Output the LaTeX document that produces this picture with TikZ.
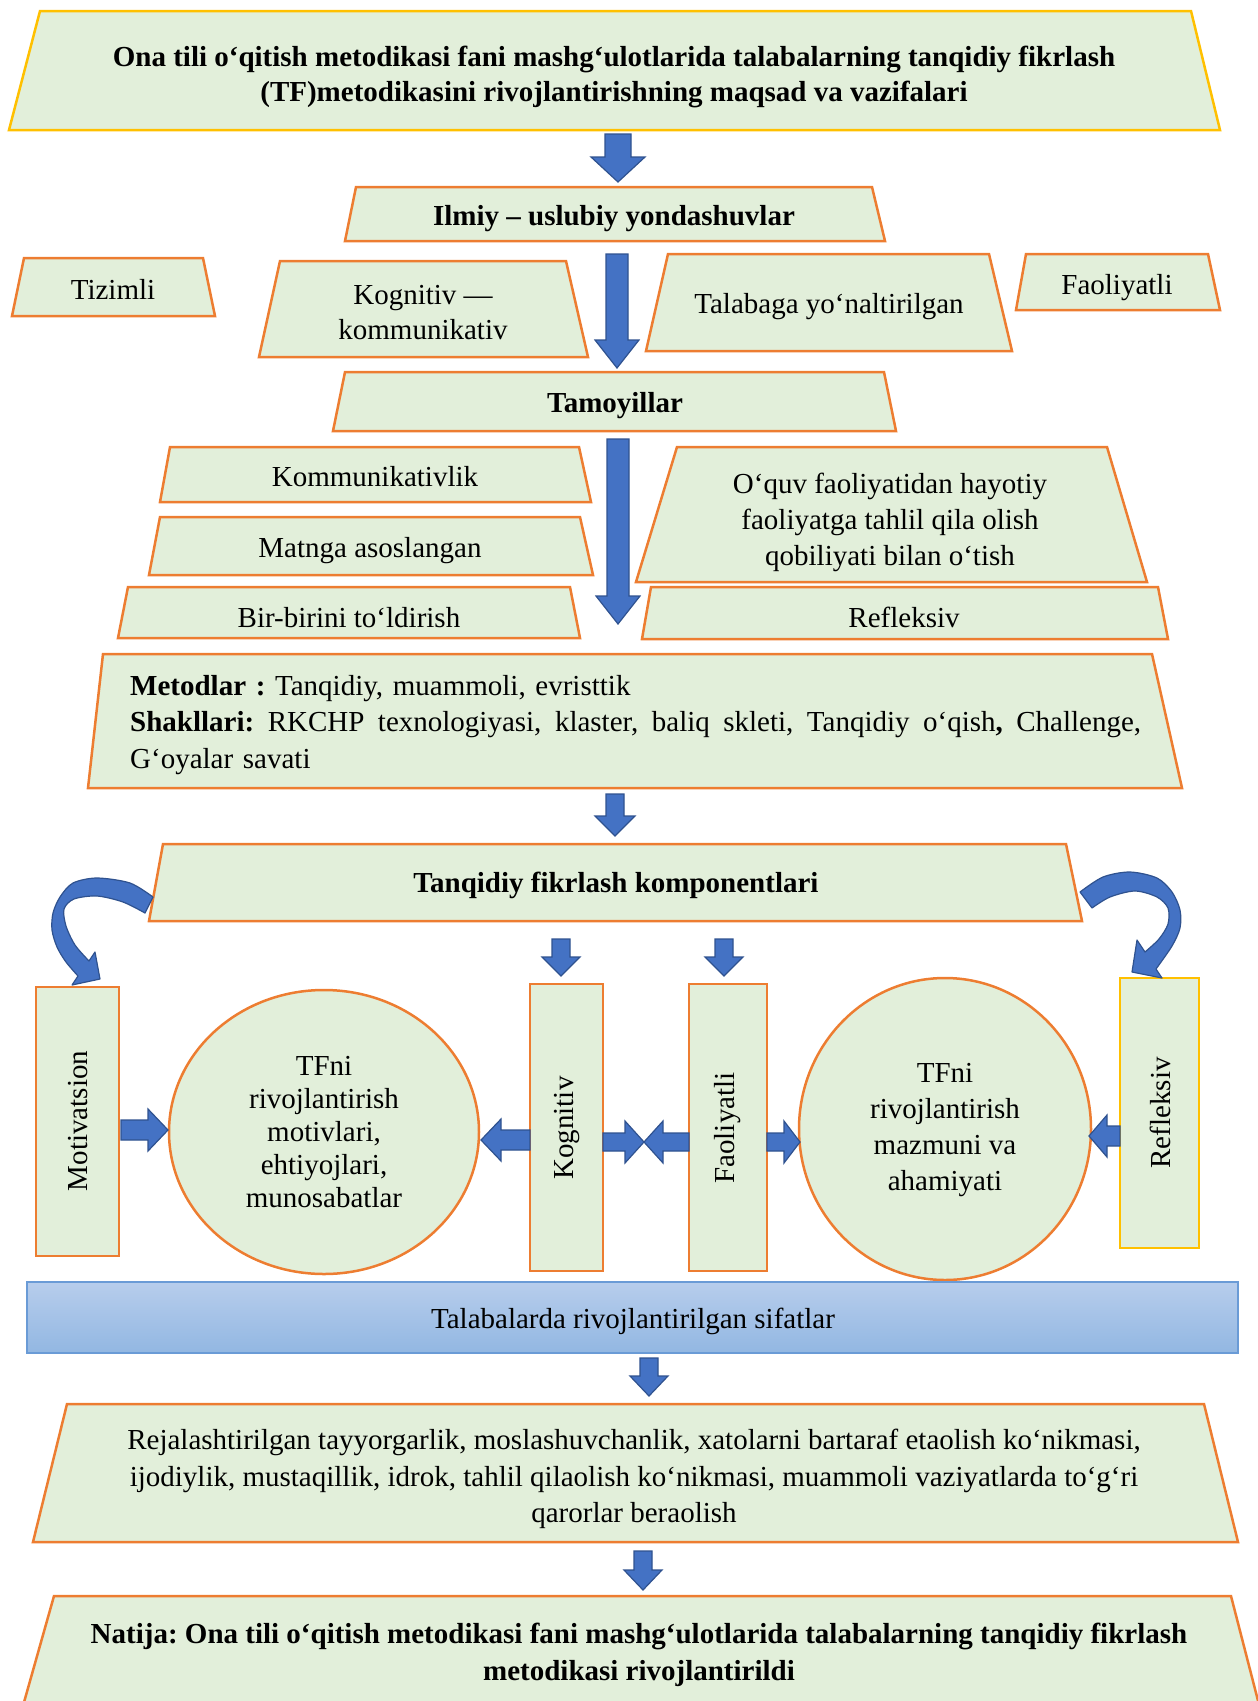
\documentclass[tikz,border=0pt]{standalone}
\usepackage{fontspec}
\setmainfont{Liberation Serif}
\definecolor{boxfill}{HTML}{E2EFDA}
\definecolor{orng}{HTML}{ED7D31}
\definecolor{gold}{HTML}{FFC000}
\definecolor{arrblue}{HTML}{4472C4}
\definecolor{arredge}{HTML}{2F528F}
\definecolor{bartop}{RGB}{183,205,236}
\definecolor{barbot}{RGB}{146,183,226}
\definecolor{baredge}{HTML}{6A9BD6}
\newcommand{\barrow}[7]{%
  \begin{scope}[shift={(#1,#2)},rotate=#3]
    \filldraw[fill=arrblue,draw=arredge,line width=1.2pt,line join=miter]
      (0,-#5)--({#4-#7},-#5)--({#4-#7},-#6)--(#4,0)--({#4-#7},#6)--({#4-#7},#5)--(0,#5)--cycle;
  \end{scope}}
\tikzset{
  trap/.style={fill=boxfill,draw=orng,line width=2.5pt,line join=miter},
  txt/.style={font=\fontsize{29}{35}\selectfont\frenchspacing,align=center,inner sep=0pt},
  btxt/.style={font=\fontsize{29}{35}\selectfont\bfseries\frenchspacing,align=center,inner sep=0pt},
  curvarr/.style={fill=arrblue,draw=arredge,line width=1.2pt,line join=round},
}
\begin{document}
\frenchspacing
\begin{tikzpicture}[x=1pt,y=1pt]
\useasboundingbox (0,0) rectangle (1258,-1701);
% title
\draw[trap,draw=gold] (40,-11)--(1191,-11)--(1220,-130)--(9,-130)--cycle;
\node[btxt] (title) at (614,-77) {Ona tili o‘qitish metodikasi fani mashg‘ulotlarida talabalarning tanqidiy fikrlash\\(TF)metodikasini rivojlantirishning maqsad va vazifalari};
% Ilmiy
\draw[trap] (356,-187)--(872,-187)--(885,-241)--(345,-241)--cycle;
\node[btxt] (ilmiy) at (614,-219) {Ilmiy – uslubiy yondashuvlar};
% approaches
\draw[trap] (24,-258)--(203,-258)--(215,-316)--(12,-316)--cycle;
\node[txt] (tizimli) at (113,-289) {Tizimli};
\draw[trap] (280,-261)--(566,-261)--(588,-357)--(259,-357)--cycle;
\node[txt] (kogkom) at (423,-313) {Kognitiv —\\kommunikativ};
\draw[trap] (668,-254)--(989,-254)--(1012,-351)--(646,-351)--cycle;
\node[txt] (talaba) at (829,-307) {Talabaga yo‘naltirilgan};
\draw[trap] (1026,-254)--(1208,-254)--(1220,-310)--(1016,-310)--cycle;
\node[txt] (faol1) at (1117,-288) {Faoliyatli};
% Tamoyillar
\draw[trap] (345,-372)--(884,-372)--(896,-431)--(333,-431)--cycle;
\node[btxt] (tamoy) at (615,-406) {Tamoyillar};
\draw[trap] (170,-447)--(579,-447)--(591,-502)--(160,-502)--cycle;
\node[txt] (kommun) at (375,-477) {Kommunikativlik};
\draw[trap] (160,-517)--(580,-517)--(593,-575)--(149,-575)--cycle;
\node[txt] (matnga) at (370,-551) {Matnga asoslangan};
\draw[trap] (128,-587)--(570,-587)--(580,-638)--(118,-638)--cycle;
\node[txt] (bir) at (349,-618) {Bir-birini to‘ldirish};
\draw[trap] (677,-447)--(1107,-447)--(1147,-582)--(636,-582)--cycle;
\node[txt,font=\fontsize{29}{36}\selectfont] (oquv) at (890,-522) {O‘quv faoliyatidan hayotiy\\faoliyatga tahlil qila olish\\qobiliyati bilan o‘tish};
\draw[trap] (651,-587)--(1158,-587)--(1168,-639)--(642,-639)--cycle;
\node[txt] (refl1) at (904,-617) {Refleksiv};
% Metodlar
\draw[trap] (103,-654)--(1152,-654)--(1182,-788)--(88,-788)--cycle;
\node[txt,anchor=west,align=left,text width=1011pt,font=\fontsize{29}{36.5}\selectfont\frenchspacing] (metod) at (130,-725)
 {\textbf{Metodlar :} Tanqidiy, muammoli, evristtik\\
  \makebox[1011pt][l]{\textbf{Shakllari:}\hfill RKCHP\hfill texnologiyasi,\hfill klaster,\hfill baliq\hfill skleti,\hfill Tanqidiy\hfill o‘qish\textbf{,}\hfill Challenge,}\\
  G‘oyalar savati};
% Tanqidiy komponentlari
\draw[trap] (163,-844)--(1066,-844)--(1082,-921)--(149,-921)--cycle;
\node[btxt] (komp) at (616,-885) {Tanqidiy fikrlash komponentlari};
% components
\draw[trap] (36,-987) rectangle (119,-1256);
\node[txt,rotate=90] (motiv) at (78,-1121) {Motivatsion};
\draw[trap] (324,-1132) ellipse [x radius=155, y radius=142];
\node[txt,font=\fontsize{29}{33}\selectfont] (ell1) at (324,-1132) {TFni\\rivojlantirish\\motivlari,\\ehtiyojlari,\\munosabatlar};
\draw[trap] (530,-984) rectangle (603,-1271);
\node[txt,rotate=90] (kogn) at (567,-1128) {Kognitiv};
\draw[trap] (689,-984) rectangle (767,-1271);
\node[txt,rotate=90] (faol2) at (728,-1128) {Faoliyatli};
\draw[trap] (945,-1129) ellipse [x radius=146, y radius=151];
\node[txt,font=\fontsize{29}{36}\selectfont] (ell2) at (945,-1130) {TFni\\rivojlantirish\\mazmuni va\\ahamiyati};
\draw[trap,draw=gold] (1120,-978) rectangle (1199,-1248);
\node[txt,rotate=90] (refl2) at (1160,-1113) {Refleksiv};
% blue bar
\shade[top color=bartop,bottom color=barbot] (27,-1282) rectangle (1238,-1353);
\draw[baredge,line width=1.3pt] (27,-1282) rectangle (1238,-1353);
\node[txt] (sifat) at (633,-1321) {Talabalarda rivojlantirilgan sifatlar};
% Rejalashtirilgan
\draw[trap] (67,-1404)--(1204,-1404)--(1238,-1542)--(33,-1542)--cycle;
\node[txt,font=\fontsize{29}{36.5}\selectfont\frenchspacing] (rejal) at (634,-1479) {Rejalashtirilgan tayyorgarlik, moslashuvchanlik, xatolarni bartaraf etaolish ko‘nikmasi,\\ijodiylik, mustaqillik, idrok, tahlil qilaolish ko‘nikmasi, muammoli vaziyatlarda to‘g‘ri\\qarorlar beraolish};
% Natija
\draw[trap] (54,-1596)--(1231,-1596)--(1263,-1720)--(19,-1720)--cycle;
\node[btxt,font=\fontsize{29}{37}\selectfont\bfseries\frenchspacing] (natija) at (639,-1655) {Natija: Ona tili o‘qitish metodikasi fani mashg‘ulotlarida talabalarning tanqidiy fikrlash\\metodikasi rivojlantirildi};
% vertical block arrows
\barrow{618}{-134}{-90}{48}{13}{27}{25}
\barrow{617}{-254}{-90}{114}{11}{22}{28}
\barrow{618}{-439}{-90}{185}{11}{22}{28}
\barrow{615}{-794}{-90}{42}{9}{20}{20}
\barrow{561}{-939}{-90}{37}{9}{19}{19}
\barrow{724}{-939}{-90}{37}{9}{19}{19}
\barrow{649}{-1358}{-90}{38}{9}{19}{20}
\barrow{643}{-1551}{-90}{39}{9}{19}{20}
% horizontal block arrows
\barrow{121}{-1130}{0}{47}{10}{21}{20}
\barrow{530}{-1140}{180}{49}{10}{21}{20}
\barrow{603}{-1142}{0}{41}{9}{21}{19}
\barrow{689}{-1142}{180}{45}{9}{21}{19}
\barrow{767}{-1142}{0}{33}{9}{21}{16}
\barrow{1120}{-1136}{180}{31}{10}{21}{18}
% curved arrows
\filldraw[curvarr] plot[smooth] coordinates {(153,-897) (130,-883) (97,-878) (73,-883) (60,-897) (53,-913) (52,-930) (57,-947) (66,-962) (78,-976)}
  -- (72,-985) -- (100,-979) -- (95,-952) -- (89,-961)
  -- plot[smooth] coordinates {(89,-961) (75,-945) (66,-926) (64,-909) (74,-899) (97,-896) (123,-902) (145,-913)} -- cycle;
\filldraw[curvarr] plot[smooth] coordinates {(1080,-892) (1103,-877) (1130,-872) (1157,-878) (1172,-892) (1180,-910) (1180,-928) (1172,-946) (1156,-969)}
  -- (1162,-978) -- (1132,-972) -- (1137,-940) -- (1145,-952)
  -- plot[smooth] coordinates {(1145,-952) (1159,-939) (1168,-924) (1168,-908) (1157,-897) (1135,-891) (1110,-897) (1092,-908)} -- cycle;
\end{tikzpicture}
\end{document}
